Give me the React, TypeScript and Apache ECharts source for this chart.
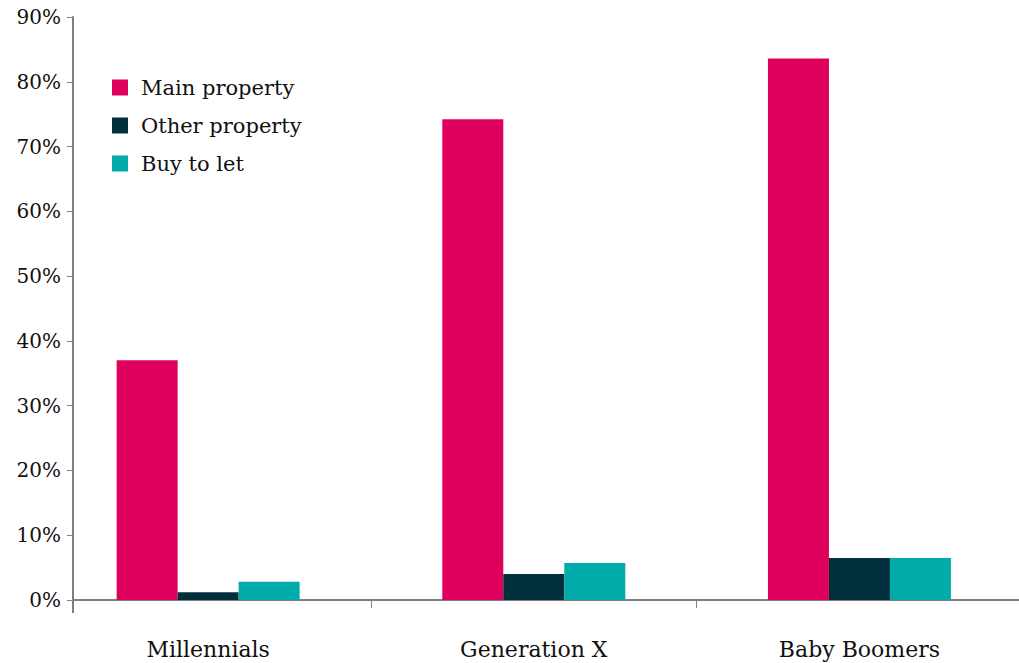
import React, { useEffect, useRef } from "react";
import * as echarts from "echarts";

const categories = ["Millennials", "Generation X", "Baby Boomers"];
const seriesNames = ["Main property", "Other property", "Buy to let"];
const mainProperty = [37.0, 74.2, 83.6];
const otherProperty = [1.2, 4.0, 6.5];
const buyToLet = [2.8, 5.7, 6.5];
const yTicks = [0, 10, 20, 30, 40, 50, 60, 70, 80, 90];

const colors = ["#DF005D", "#022F3C", "#00ABAA"];
const FONT = "'DejaVu Serif', Georgia, serif";
const X_MIN = -0.415;
const X_MAX = 2.49;

export default function App() {
  const ref = useRef<HTMLDivElement>(null);
  useEffect(() => {
    if (!ref.current) return;
    const chart = echarts.init(ref.current, null, { renderer: "svg" });
    const values = [mainProperty, otherProperty, buyToLet];
    chart.setOption({
      animation: false,
      backgroundColor: "#ffffff",
      grid: { left: 73, right: 0, top: 17, bottom: 63, containLabel: false },
      legend: {
        orient: "vertical",
        left: 112,
        top: 77,
        padding: 0,
        itemWidth: 16,
        itemHeight: 16,
        itemGap: 17,
        icon: "rect",
        data: seriesNames,
        textStyle: {
          fontFamily: FONT,
          fontSize: 21,
          color: "#111",
          padding: [0, 0, 0, 8],
        },
      },
      xAxis: [
        {
          type: "value",
          min: X_MIN,
          max: X_MAX,
          position: "bottom",
          splitLine: { show: false },
          axisLine: { show: true, onZero: false, lineStyle: { color: "#808080", width: 2 } },
          axisTick: {
            show: true,
            customValues: [0.5, 1.5],
            length: 8,
            lineStyle: { color: "#808080", width: 1 },
          },
          axisLabel: {
            customValues: [0, 1, 2],
            formatter: (v: number) => categories[Math.round(v)],
            fontFamily: FONT,
            fontSize: 22,
            color: "#111",
            margin: 38,
          },
        },
        {
          type: "value",
          min: X_MIN,
          max: X_MAX,
          position: "bottom",
          splitLine: { show: false },
          axisLine: { show: false, onZero: false },
          axisTick: {
            show: true,
            customValues: [X_MIN],
            length: 13,
            lineStyle: { color: "#808080", width: 2 },
          },
          axisLabel: { show: false },
        },
      ],
      yAxis: {
        type: "value",
        min: 0,
        max: 90,
        interval: 10,
        splitLine: { show: false },
        axisLine: { show: true, onZero: false, lineStyle: { color: "#808080", width: 2 } },
        axisTick: { show: true, length: 6, lineStyle: { color: "#808080", width: 1 } },
        axisLabel: {
          formatter: (v: number) => (yTicks.includes(v) ? v + "%" : ""),
          fontFamily: FONT,
          fontSize: 20,
          color: "#111",
          margin: 12,
        },
      },
      series: seriesNames.map((name, s) => ({
        name,
        type: "bar",
        xAxisIndex: 0,
        barWidth: 61,
        barGap: "0%",
        itemStyle: { color: colors[s] },
        data: values[s].map((v, i) => [i, v]),
      })),
    });
    return () => chart.dispose();
  }, []);
  return (
    <div
      ref={ref}
      style={{ position: "fixed", left: 0, top: 0, width: 1019, height: 663 }}
    />
  );
}
